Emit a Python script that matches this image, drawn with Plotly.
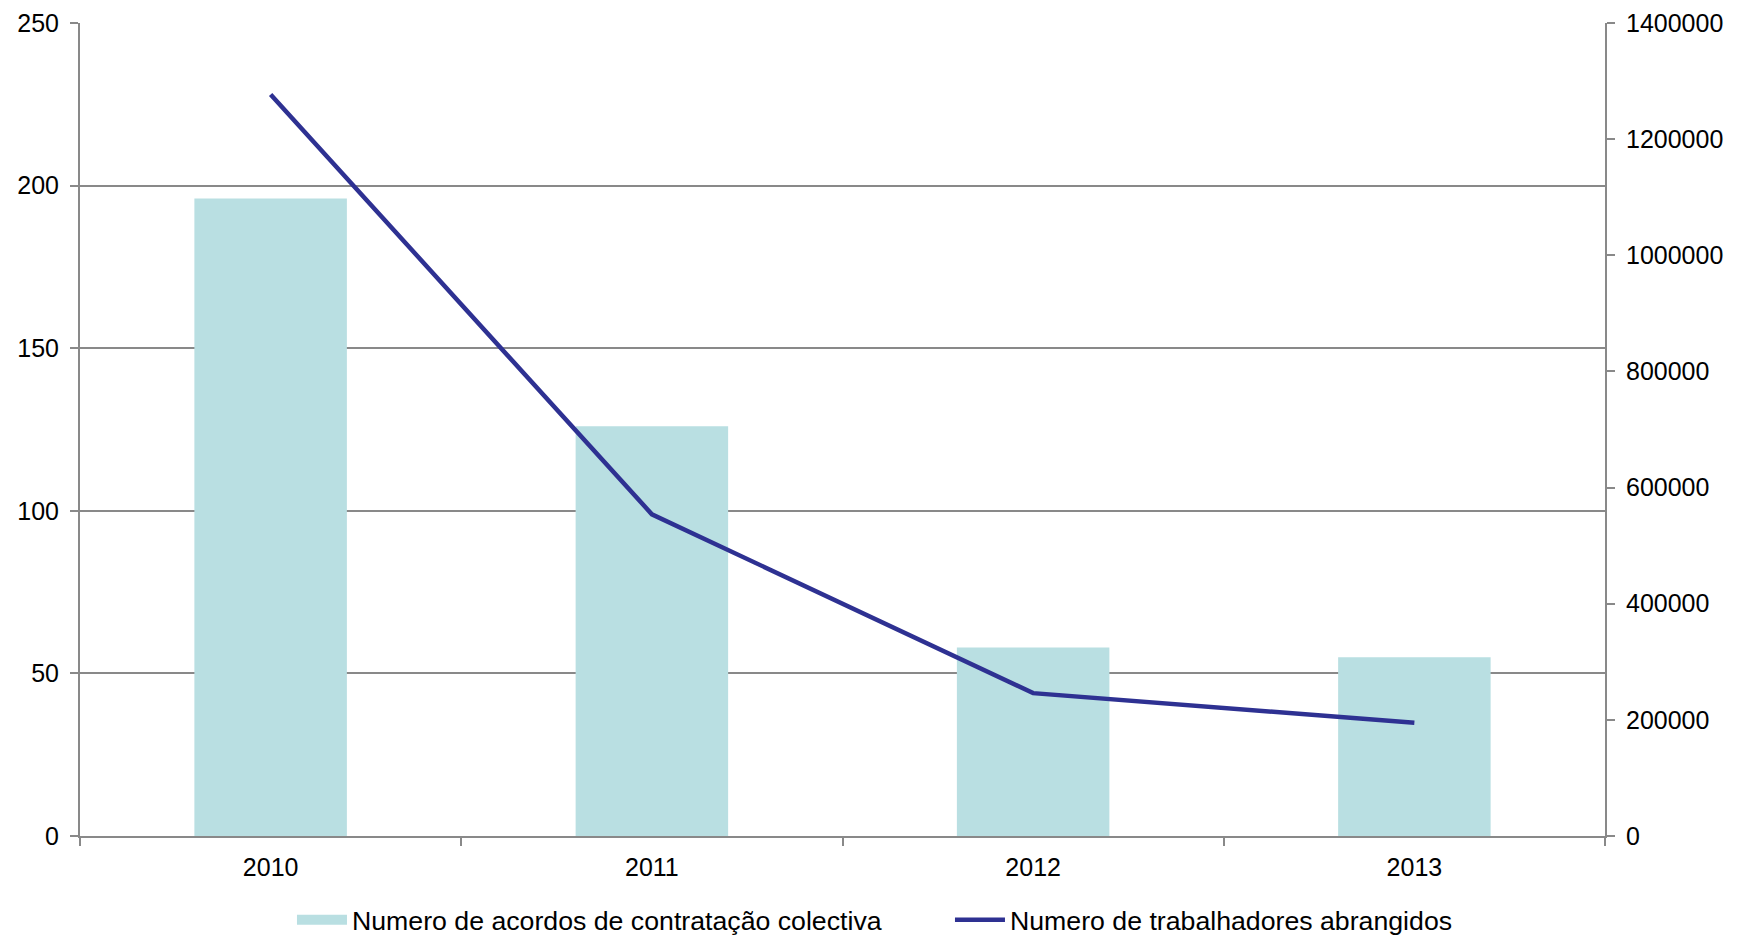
import plotly.graph_objects as go

years = ["2010", "2011", "2012", "2013"]
acordos = [196, 126, 58, 55]
trabalhadores = [1277000, 554000, 246000, 195000]

bar_name = "Numero de acordos de contratação colectiva"
line_name = "Numero de trabalhadores abrangidos"
bar_color = "#B9DFE2"
line_color = "#2E3192"

fig = go.Figure()
fig.add_trace(go.Bar(x=years, y=acordos, name=bar_name, marker=dict(color=bar_color, line=dict(width=0)),
                     width=0.4, yaxis="y", showlegend=False))
# legend entry drawn as a wide block like the original
fig.add_trace(go.Scatter(x=[None], y=[None], name=bar_name, mode="lines",
                         line=dict(color=bar_color, width=14), yaxis="y", showlegend=True))
fig.add_trace(go.Scatter(x=years, y=trabalhadores, name=line_name, mode="lines",
                         line=dict(color=line_color, width=4.5), yaxis="y2"))

grid = "#898989"
fig.update_layout(
    width=1752, height=936,
    margin=dict(l=80, r=147, t=23, b=100, autoexpand=False),
    paper_bgcolor="white", plot_bgcolor="white",
    font=dict(family="Liberation Sans, Arial, sans-serif", size=25, color="black"),
    showlegend=True,
    legend=dict(orientation="h", x=0.139, xanchor="left", y=-0.1033, yanchor="middle",
                font=dict(size=26.7), entrywidth=593, itemwidth=50, traceorder="normal",
                bgcolor="rgba(0,0,0,0)"),
    xaxis=dict(type="category", showline=True, linecolor=grid, linewidth=2, automargin=False,
               ticks="outside", tickson="boundaries", ticklen=8, tickcolor=grid, tickwidth=2,
               showgrid=False, range=[-0.5, 3.5], ticklabelstandoff=8),
    yaxis=dict(range=[0, 250], dtick=50, showgrid=True, gridcolor=grid, gridwidth=2, automargin=False,
               showline=True, linecolor=grid, linewidth=2, ticks="outside", ticklen=8,
               tickcolor=grid, tickwidth=2, zeroline=False, ticklabelstandoff=6),
    yaxis2=dict(range=[0, 1400000], dtick=200000, overlaying="y", side="right", showgrid=False,
                automargin=False,
                showline=True, linecolor=grid, linewidth=2, ticks="outside", ticklen=8,
                tickcolor=grid, tickwidth=2, zeroline=False, tickformat="d", ticklabelstandoff=6),
)
fig.write_html(
    "out.html",
    config={"displayModeBar": False},
    post_script="document.body.style.margin='0';document.body.style.overflow='hidden';",
)
